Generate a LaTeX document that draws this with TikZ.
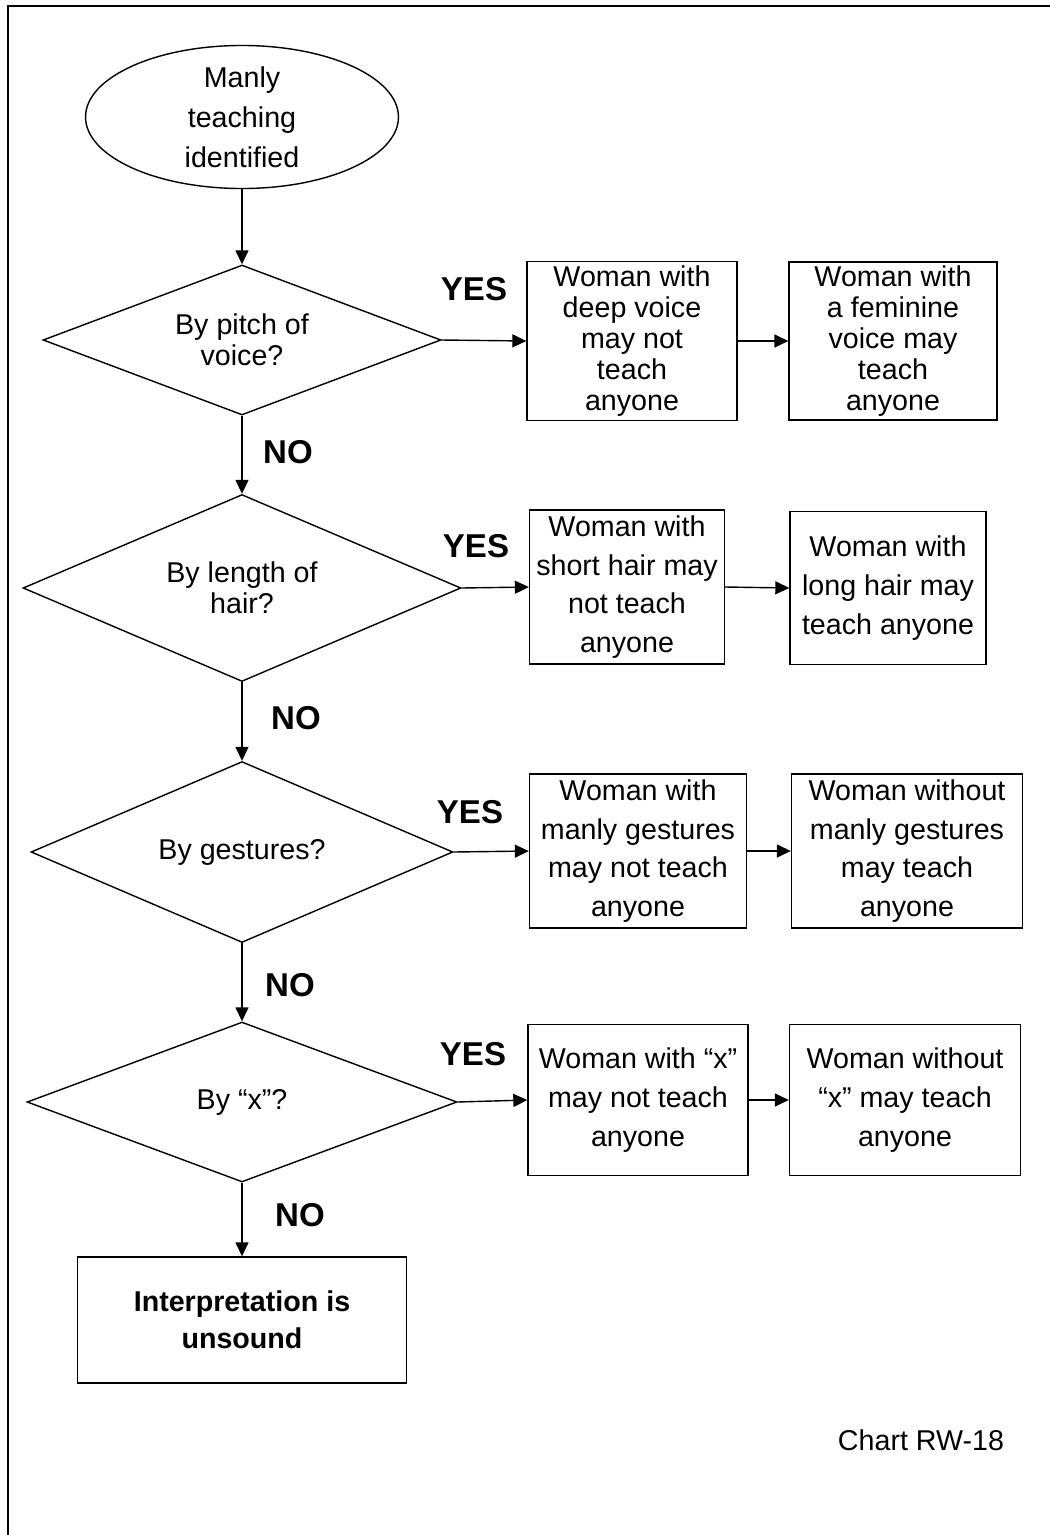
\documentclass[tikz,border=0pt]{standalone}
\usepackage{fontspec}
\setmainfont{Liberation Sans}
\usetikzlibrary{arrows.meta}
\usepgflibrary{shapes.geometric}

\begin{document}
\begin{tikzpicture}[x=0.02cm, y=-0.02cm,
        every node/.style={font=\fontsize{16.3}{17.6}\selectfont, align=center},
        box/.style={draw, line width=0.8pt, inner sep=0pt},
        wide/.style={font=\fontsize{16.3}{22}\selectfont},
        flow/.style={-{Triangle[length=0.28cm, width=0.26cm]}, line width=0.8pt},
        answer/.style={font=\fontsize{18.8}{20}\selectfont\bfseries}]
            \useasboundingbox (0,0) rectangle (1050,1535);
            \draw[line width=1.1pt] (8,1535) -- (8,6) -- (1050,6);

            \node[box, ellipse, minimum width=6.26cm, minimum height=2.76cm, font=\fontsize{16.3}{22.8}\selectfont] (start) at (242,117) {Manly\\teaching\\identified};

            \node[box, diamond, aspect=2.65, minimum width=7.96cm, minimum height=3.0cm] (pitch) at (242,340) {By pitch of\\voice?};
            \node[box, diamond, aspect=2.34, minimum width=8.76cm, minimum height=3.74cm] (hair) at (242,588) {By length of\\hair?};
            \node[box, diamond, aspect=2.33, minimum width=8.44cm, minimum height=3.62cm] (gest) at (242,852) {By gestures?};
            \node[box, diamond, aspect=2.69, minimum width=8.6cm, minimum height=3.2cm] (xq) at (242,1102) {By “x”?};

            \node[box, minimum width=4.2cm, minimum height=3.18cm] (deep) at (632,341) {Woman with\\deep voice\\may not\\teach\\anyone};
            \node[box, minimum width=4.16cm, minimum height=3.16cm] (fem) at (893,341) {Woman with\\a feminine\\voice may\\teach\\anyone};
            \node[box, wide, minimum width=3.9cm, minimum height=3.08cm] (short) at (627,587) {Woman with\\short hair may\\not teach\\anyone};
            \node[box, wide, minimum width=3.92cm, minimum height=3.06cm] (long) at (888,588) {Woman with\\long hair may\\teach anyone};
            \node[box, wide, minimum width=4.34cm, minimum height=3.08cm] (manly) at (638,851) {Woman with\\manly gestures\\may not teach\\anyone};
            \node[box, wide, minimum width=4.62cm, minimum height=3.08cm] (nomanly) at (907,851) {Woman without\\manly gestures\\may teach\\anyone};
            \node[box, wide, minimum width=4.4cm, minimum height=3.02cm] (withx) at (638,1100) {Woman with “x”\\may not teach\\anyone};
            \node[box, wide, minimum width=4.62cm, minimum height=3.02cm] (withoutx) at (905,1100) {Woman without\\“x” may teach\\anyone};
            \node[box, minimum width=6.58cm, minimum height=2.52cm, font=\fontsize{16.3}{21}\selectfont\bfseries] (unsound) at (242,1320) {Interpretation is\\unsound};

            \node[answer] (yes1) at (474,289) {YES};
            \node[answer] (yes2) at (476,546) {YES};
            \node[answer] (yes3) at (470,812) {YES};
            \node[answer] (yes4) at (473,1054) {YES};
            \node[answer] (no1) at (288,452) {NO};
            \node[answer] (no2) at (296,718) {NO};
            \node[answer] (no3) at (290,985) {NO};
            \node[answer] (no4) at (300,1215) {NO};

            \node (chart) at (921,1440) {Chart RW-18};

            \draw[flow] (start.south) -- (pitch.north);
            \draw[flow] (pitch.south) -- (hair.north);
            \draw[flow] (hair.south) -- (gest.north);
            \draw[flow] (gest.south) -- (xq.north);
            \draw[flow] (xq.south) -- (unsound.north);

            \draw[flow] (pitch.east) -- (deep.west);
            \draw[flow] (deep.east) -- (fem.west);
            \draw[flow] (hair.east) -- (short.west);
            \draw[flow] (short.east) -- (long.west);
            \draw[flow] (gest.east) -- (manly.west);
            \draw[flow] (manly.east) -- (nomanly.west);
            \draw[flow] (xq.east) -- (withx.west);
            \draw[flow] (withx.east) -- (withoutx.west);

        \end{tikzpicture}
\end{document}
